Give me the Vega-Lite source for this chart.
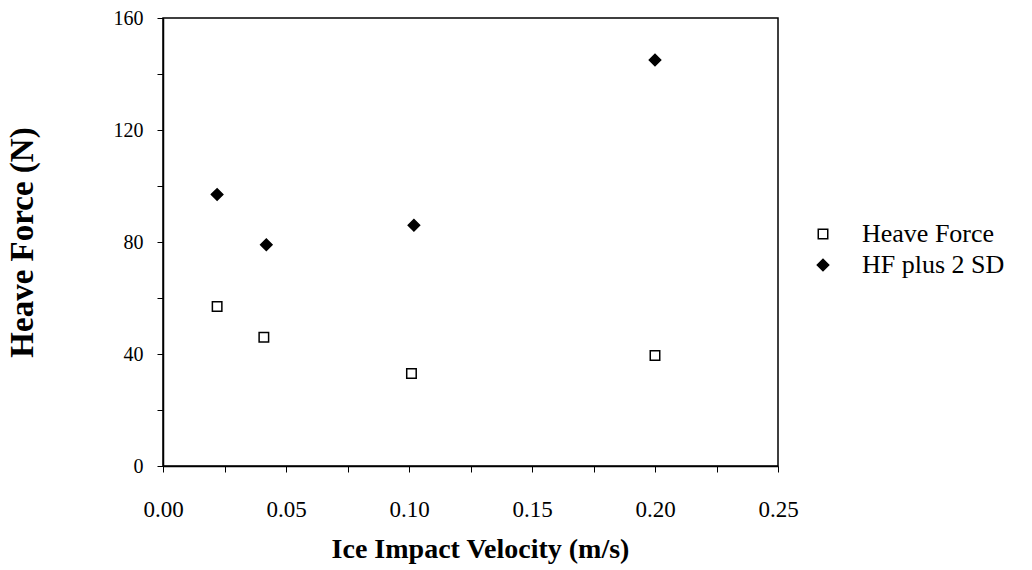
{
  "$schema": "https://vega.github.io/schema/vega-lite/v6.json",
  "autosize": "none",
  "padding": {"left": 163, "top": 18, "right": 254, "bottom": 104},
  "width": 615,
  "height": 448,
  "background": "white",
  "config": {
    "font": "Liberation Serif",
    "view": {"stroke": "black", "strokeWidth": 1.5}
  },
  "data": {
    "values": [
      {"velocity": 0.022, "force": 57, "series": "Heave Force"},
      {"velocity": 0.041, "force": 46, "series": "Heave Force"},
      {"velocity": 0.101, "force": 33, "series": "Heave Force"},
      {"velocity": 0.2, "force": 39.5, "series": "Heave Force"},
      {"velocity": 0.022, "force": 97, "series": "HF plus 2 SD"},
      {"velocity": 0.042, "force": 79, "series": "HF plus 2 SD"},
      {"velocity": 0.102, "force": 86, "series": "HF plus 2 SD"},
      {"velocity": 0.2, "force": 145, "series": "HF plus 2 SD"}
    ]
  },
  "mark": {"type": "point", "opacity": 1, "strokeWidth": 1.5},
  "encoding": {
    "x": {
      "field": "velocity",
      "type": "quantitative",
      "scale": {"domain": [0, 0.25], "nice": false, "zero": false},
      "axis": {
        "title": "Ice Impact Velocity (m/s)",
        "titleFont": "Liberation Serif",
        "titleFontSize": 28,
        "titleFontWeight": "bold",
        "titleColor": "black",
        "titleX": 317,
        "titleY": 83,
        "titleAlign": "center",
        "titleBaseline": "middle",
        "values": [0, 0.025, 0.05, 0.075, 0.1, 0.125, 0.15, 0.175, 0.2, 0.225, 0.25],
        "labelExpr": "(round(datum.value * 1000) % 50 == 0) ? format(datum.value, '.2f') : ''",
        "labelFont": "Liberation Serif",
        "labelFontSize": 23,
        "labelColor": "black",
        "labelPadding": 26,
        "labelFlush": false,
        "tickColor": "black",
        "tickSize": 6,
        "domainColor": "black",
        "domainWidth": 1.5,
        "grid": false
      }
    },
    "y": {
      "field": "force",
      "type": "quantitative",
      "scale": {"domain": [0, 160], "nice": false},
      "axis": {
        "title": "Heave Force (N)",
        "titleFont": "Liberation Serif",
        "titleFontSize": 33,
        "titleFontWeight": "bold",
        "titleColor": "black",
        "titleX": -141,
        "titleY": 224,
        "titleAngle": -90,
        "titleAlign": "center",
        "titleBaseline": "middle",
        "values": [0, 20, 40, 60, 80, 100, 120, 140, 160],
        "labelExpr": "(datum.value % 40 == 0) ? datum.value : ''",
        "labelFont": "Liberation Serif",
        "labelFontSize": 20,
        "labelColor": "black",
        "labelPadding": 14,
        "labelFlush": false,
        "tickColor": "black",
        "tickSize": 6,
        "domainColor": "black",
        "domainWidth": 1.5,
        "grid": false
      }
    },
    "shape": {
      "field": "series",
      "type": "nominal",
      "scale": {"domain": ["Heave Force", "HF plus 2 SD"], "range": ["square", "diamond"]},
      "legend": {
        "title": null,
        "orient": "none",
        "legendX": 647,
        "legendY": 203,
        "padding": 0,
        "labelFont": "Liberation Serif",
        "labelFontSize": 26,
        "labelColor": "black",
        "labelOffset": 26,
        "rowPadding": 5,
        "symbolStrokeColor": "black",
        "symbolStrokeWidth": 1.5
      }
    },
    "fill": {
      "field": "series",
      "type": "nominal",
      "scale": {"domain": ["Heave Force", "HF plus 2 SD"], "range": ["white", "black"]}
    },
    "size": {
      "field": "series",
      "type": "nominal",
      "scale": {"domain": ["Heave Force", "HF plus 2 SD"], "range": [90, 130]}
    },
    "color": {"value": "black"}
  }
}
